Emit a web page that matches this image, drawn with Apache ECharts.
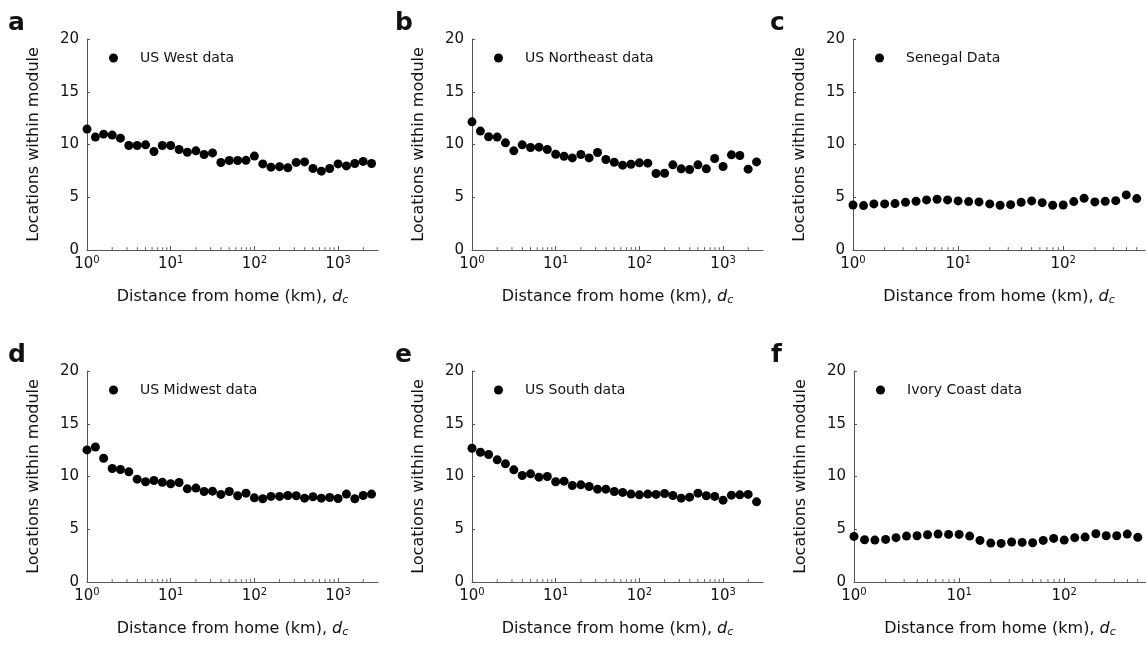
<!DOCTYPE html>
<html><head><meta charset="utf-8">
<script src="https://cdn.jsdelivr.net/npm/echarts@6/dist/echarts.min.js"></script>
<style>html,body{margin:0;padding:0;background:#fff}#c{width:1146px;height:646px}</style>
</head><body><div id="c"></div>
<script>
// distance bins (km)
const distances = [1,1.26,1.58,2,2.51,3.16,3.98,5.01,6.31,7.94,10,12.6,15.8,20,25.1,31.6,39.8,50.1,63.1,79.4,100,126,158,200,251,316,398,501,631,794,1000,1259,1585,1995,2512];
const usWest = [11.46,10.7,10.98,10.89,10.6,9.9,9.9,9.97,9.34,9.9,9.9,9.53,9.27,9.4,9.05,9.2,8.29,8.48,8.48,8.5,8.9,8.16,7.85,7.9,7.8,8.3,8.35,7.72,7.47,7.72,8.16,7.97,8.2,8.4,8.2];
const usNortheast = [12.15,11.27,10.73,10.7,10.16,9.4,9.97,9.72,9.75,9.53,9.08,8.89,8.73,9.05,8.73,9.24,8.58,8.32,8.04,8.13,8.26,8.23,7.25,7.28,8.07,7.69,7.63,8.07,7.69,8.67,7.91,9.02,8.96,7.66,8.35];
const senegal = [4.27,4.21,4.37,4.37,4.4,4.53,4.62,4.75,4.81,4.75,4.65,4.59,4.56,4.37,4.24,4.3,4.53,4.65,4.49,4.24,4.27,4.59,4.9,4.56,4.62,4.68,5.22,4.87];
const usMidwest = [12.52,12.8,11.73,10.76,10.66,10.44,9.75,9.5,9.62,9.46,9.31,9.43,8.83,8.9,8.58,8.61,8.3,8.58,8.17,8.42,7.98,7.89,8.11,8.11,8.2,8.17,7.95,8.08,7.95,8.01,7.92,8.33,7.89,8.2,8.33];
const usSouth = [12.68,12.3,12.08,11.58,11.2,10.63,10.09,10.25,9.94,10.0,9.5,9.56,9.15,9.21,9.05,8.8,8.8,8.58,8.49,8.33,8.26,8.33,8.3,8.39,8.2,7.95,8.04,8.42,8.17,8.11,7.76,8.23,8.26,8.3,7.6];
const ivoryCoast = [4.32,4.0,3.97,4.04,4.2,4.35,4.38,4.48,4.54,4.51,4.51,4.35,3.94,3.69,3.66,3.79,3.75,3.72,3.94,4.13,3.97,4.2,4.26,4.57,4.38,4.38,4.54,4.23];
const seriesNames = ['US West data','US Northeast data','Senegal Data','US Midwest data','US South data','Ivory Coast data'];
const panelLetters = ['a','b','c','d','e','f'];
const yTicks = [0,5,10,15,20];
const minorTicksUS = [2,3,4,5,6,7,8,9,20,30,40,50,60,70,80,90,200,300,400,500,600,700,800,900,2000];
const minorTicksAF = [2,3,4,5,6,7,8,9,20,30,40,50,60,70,80,90,200,300,400,500];
const xMaxUS = 3000, xMaxAF = 600;

const allValues = [usWest, usNortheast, senegal, usMidwest, usSouth, ivoryCoast];
const FONT = 'DejaVu Sans';
const TXT = '#111';
const AX = '#555';
const panels = [
  {left:87, top:39}, {left:472, top:39}, {left:853, top:39},
  {left:87, top:371}, {left:472, top:371}, {left:854, top:371}
];
const gridW = 291, gridH = 211;

const grid = [], xAxis = [], yAxis = [], series = [], legend = [], graphic = [];
panels.forEach((p, i) => {
  const isAF = (i === 2 || i === 5);
  grid.push({left:p.left, top:p.top, width: isAF ? gridW+1 : gridW, height: gridH});
  xAxis.push({
    type:'log', logBase:10, gridIndex:i, min:1, max: isAF ? xMaxAF : xMaxUS, interval:1,
    name:'Distance from home (km), {it|d}{sub|c}', nameLocation:'middle', nameGap:38,
    nameTextStyle:{fontFamily:FONT, fontSize:16, color:TXT,
      rich:{it:{fontFamily:FONT, fontSize:16, fontStyle:'italic', color:TXT},
            sub:{fontFamily:FONT, fontSize:11, fontStyle:'italic', color:TXT, verticalAlign:'bottom', padding:[7,0,0,0]}}},
    axisLine:{show:true, onZero:false, lineStyle:{color:AX, width:1}},
    axisTick:{show:true, inside:true, length:4, lineStyle:{color:AX}},
    splitLine:{show:false},
    axisLabel:{margin:5, showMaxLabel:false, fontFamily:FONT, fontSize:15, color:TXT,
      formatter: v => { const e = Math.log10(v); if (Math.abs(e-Math.round(e))>1e-6) return ''; return '10{sup|'+Math.round(e)+'}'; },
      rich:{sup:{fontFamily:FONT, fontSize:10, color:TXT, verticalAlign:'top', padding:[0,0,8,0]}}}
  });
  yAxis.push({
    type:'value', gridIndex:i, min:yTicks[0], max:yTicks[yTicks.length-1], interval:5,
    name:'Locations within module', nameLocation:'middle', nameGap:45, nameRotate:90,
    nameTextStyle:{fontFamily:FONT, fontSize:16, color:TXT},
    axisLine:{show:true, lineStyle:{color:AX, width:1}},
    axisTick:{show:true, inside:true, length:3, lineStyle:{color:AX}},
    splitLine:{show:false},
    axisLabel:{margin:8, fontFamily:FONT, fontSize:15, color:TXT}
  });
  const vals = allValues[i];
  series.push({
    name: seriesNames[i], type:'scatter', xAxisIndex:i, yAxisIndex:i,
    symbol:'circle', symbolSize:9, itemStyle:{color:'#000', opacity:1},
    data: vals.map((v,k) => [distances[k], v])
  });
  const mt = isAF ? minorTicksAF : minorTicksUS;
  series.push({
    name:'minor'+i, type:'scatter', xAxisIndex:i, yAxisIndex:i, silent:true, clip:false,
    symbol:'rect', symbolSize:[1,2.5], symbolOffset:[0,-1.5], itemStyle:{color:AX, opacity:1},
    data: mt.map(t => [t, 0]), z:1
  });
  legend.push({
    data:[{name:seriesNames[i], icon:'circle', itemStyle:{color:'#000', opacity:1}}], left: p.left+22, top: p.top+12, padding:0,
    itemWidth:9, itemHeight:9, selectedMode:false,
    textStyle:{fontFamily:FONT, fontSize:14, color:TXT, padding:[0,0,0,17]}
  });
  graphic.push({type:'text', left: p.left - (i%3===0 ? 79 : (i%3===1 ? 77 : 83)), top: p.top - 28,
    style:{text:panelLetters[i], font:'bold 25px "DejaVu Sans"', fill:'#111'}});
});

const chart = echarts.init(document.getElementById('c'), null, {renderer:'canvas'});
chart.setOption({animation:false, backgroundColor:'#fff', grid, xAxis, yAxis, series, legend, graphic});
</script></body></html>
